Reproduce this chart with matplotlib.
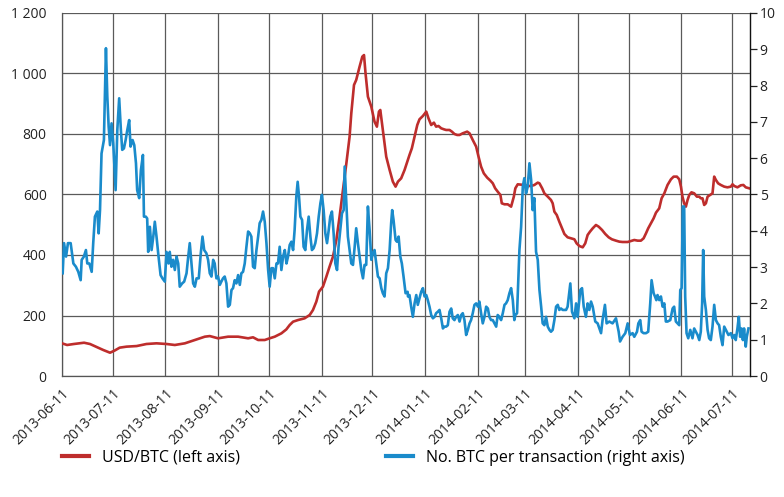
import numpy as np
import pandas as pd
import matplotlib
matplotlib.use("Agg")
import matplotlib.pyplot as plt
import matplotlib.dates as mdates
from matplotlib.ticker import FuncFormatter
from matplotlib.lines import Line2D

plt.rcParams['font.family'] = ['Open Sans', 'DejaVu Sans']

start = pd.Timestamp('2013-06-11')

# USD/BTC (left axis): days after 2013-06-11, price
usd_days = [0, 3, 7, 13, 16.5, 20, 24.3, 28.3, 31, 34, 38, 44, 49.8, 55.7, 61.6,
            66.5, 72.4, 78.3, 84.2, 87.1, 92, 97.9, 103.8, 109.7, 112.6, 115.6, 119.5, 122.4, 125.4, 129.3, 132.2,
            134.2, 136.2, 139.1, 143, 146, 147.9, 149.9, 151.5, 153.8, 155.8, 157.7, 159.7, 161.7, 163.6, 165.6,
            167.6, 169.5, 170.5, 172.1, 173.4, 175.4, 177, 178, 178.9, 180.3, 182.3, 184.2, 185.6, 186.8, 187.6,
            189.1, 191.1, 193.1, 195, 196.6, 198, 199.9,
            201.9, 203.5, 204.8, 206.2, 207.8, 209.4, 210.7, 212.7, 214.7, 216, 217.6, 219.2, 220.5, 221.9, 223.5,
            225.1, 226.4, 228.4, 229.8, 231.3, 232.9, 234.3, 236.2, 238.8, 240.2, 242.1, 244.1, 245.5, 247, 248.6,
            250.6, 252.5, 253.9, 255.3, 256.8, 258.4, 259.2, 260.8, 262.7, 264.7, 266.3, 267.2, 268.6,
            272.5, 274.5, 276.5, 278.4, 280.4, 281.4, 283, 284.3, 286.3, 288.2, 289.2, 290.2, 291.6, 293.1, 294.7,
            296.1, 298, 300, 302, 303.3, 304.9, 306.9, 308.4, 309.8, 311.2, 312.8, 314.7, 316.3, 318.3, 320.2,
            322.2, 324.1, 326.5, 328.5, 330.4, 333.4, 335.3,
            337.3, 339.3, 341.2, 342.8, 344.2, 345.5, 347.1, 348.7, 350.1, 352, 353.4, 355, 356.9, 358.9, 360.5,
            362.4, 363.8, 364.8, 365.7, 366.7, 367.7, 368.7, 369.7, 371, 372.6, 374.2, 375.6, 376.5, 377.5, 378.5,
            379.5, 380.5, 382, 383.4, 384.4, 385.4, 386.7, 388.3, 390.3, 392.2, 394.2, 395.2, 396.2, 398.1, 400.1,
            401.6, 403, 405]
usd_btc = [108, 102.5, 105.8, 110, 105.8, 97, 86, 77, 84, 93.7, 97, 99, 105.8, 108, 105.8,
           102.5, 108, 119, 130, 132, 124.6, 130, 130, 124.6, 127.9, 119, 119, 124.6, 130, 141, 154,
           168.6, 179.6, 185, 190.7, 201.7, 218, 245.8, 279, 295.4, 328.4, 361.5, 394.5, 449.6, 526.8, 615,
           703, 791, 868, 962, 978.6, 1022.7, 1055.7, 1061, 1000.6, 923.5, 890.4, 840.8, 824.3, 874, 879.4,
           813.3, 725, 681, 642.5, 626, 642.5, 653.5,
           681, 708.6, 730.6, 752.7, 791.3, 829.8, 848.6, 859.6, 873.9, 851.9, 829.8, 837.5, 824.3, 826.5, 818.8,
           815.5, 813.3, 813.3, 807.8, 800, 796.8, 796.8, 802.3, 807.8, 802.3, 780.2, 758.2, 725.1, 692.1, 670,
           655.7, 645.8, 637, 620.5, 609.4, 598.4, 570.9, 567.6, 567.6, 559.8, 592.9, 620.5, 633.7,
           631.5, 628.2, 628.2, 631.5, 639.2, 637, 620.5, 603.9, 592.9, 581.9, 570.9, 543.3, 532.3, 510.3, 488.2,
           469.5, 458.5, 455.2, 451.9, 438.6, 429.8, 425.4, 438.6, 466.2, 477.2, 488.2, 499.2, 493.7, 482.7, 469.5,
           458.5, 451.9, 447.4, 444.1, 443, 443, 446.3,
           449.6, 447.4, 447.4, 455.2, 471.7, 488.2, 504.7, 521.3, 540.1, 554.3, 587.4, 603.9, 631.5, 650.2, 659.1,
           659.1, 650.2, 626, 592.9, 570.9, 559.8, 581.9, 598.4, 607.2, 603.9, 592.9, 592.9, 587.4, 587.4, 565.4,
           570.9, 592.9, 598.4, 603.9, 659.1, 648, 637, 631.5, 626, 623.7, 626, 633.7, 628.2, 623.7, 630.4,
           631.5, 623.7, 620.5]

# No. BTC per transaction (right axis)
btc_days = [0.4, 1.2, 2.4, 3.5, 5.1, 6.7, 8.2, 9.6, 11.0, 11.6, 12.9, 14.1, 14.9, 16.1, 17.5, 18.4, 19.4, 20.8,
            21.6, 22.4, 23.3, 24.7, 25.9, 26.7, 27.5, 28.3, 29.2, 30.2, 30.8, 31.6, 32.6, 33.7, 34.7, 35.5, 36.5,
            37.5, 38.5, 39.6, 40.4, 41.6, 42.6, 43.6, 44.3, 45.5, 46.5, 47.7, 48.3, 49.4, 50.2, 50.8, 51.8, 52.8,
            53.8, 54.7, 55.7, 56.9, 58.1, 59.2, 60.6, 61.6, 62.8, 63.5, 64.5, 65.5,
            66.5, 67.5, 68.5, 69.4, 70.8, 72.0, 73.4, 74.4, 75.3, 76.3, 77.3, 78.3, 79.3, 80.6, 81.8, 82.8, 83.8,
            85.1, 86.1, 87.1, 88.1, 89.1, 90.0, 91.0, 92.0, 93.0, 93.9, 94.9, 95.9, 96.9, 97.9, 98.9, 99.9, 100.8,
            101.8, 102.8, 103.8, 104.8, 105.7, 106.7, 107.7, 108.7, 109.7, 110.7, 111.6, 112.6, 113.6, 114.6,
            115.6, 116.5, 117.5, 118.5, 119.5, 120.5, 121.5, 122.4, 123.4, 124.4, 125.4, 126.4, 127.3, 128.3,
            129.3, 130.3, 131.3, 132.3, 133.2, 134.2,
            135.2, 136.2, 137.1, 138.1, 138.9, 139.7, 140.5, 141.5, 142.4, 143.4, 144.4, 145.4, 146.4, 147.3,
            148.3, 149.3, 150.3, 151.3, 152.3, 153.2, 154.2, 155.2, 156.2, 157.2, 158.1, 159.1, 160.1, 161.1,
            162.1, 163.0, 164.0, 165.0, 166.0, 166.6, 167.6, 168.5, 169.5, 170.5, 171.5, 172.5, 173.4, 174.4,
            175.4, 176.4, 177.4, 178.3, 179.3, 180.3, 181.3, 182.3, 183.2, 184.2, 185.2, 186.2, 187.2, 188.2,
            189.1, 190.1, 191.1, 192.1, 193.1, 194.0, 194.6, 195.4, 196.6, 197.4, 198.4, 199.4, 200.3, 201.3,
            202.5, 203.7,
            203.9, 204.8, 205.8, 206.8, 207.8, 208.8, 209.7, 210.7, 211.7, 212.7, 213.7, 214.7, 215.6, 216.6,
            217.6, 218.6, 219.6, 220.5, 221.5, 222.5, 223.5, 224.5, 225.4, 226.4, 227.4, 228.4, 229.4, 230.3,
            231.3, 232.3, 233.3, 234.3, 235.3, 236.2, 237.2, 238.2, 239.2, 240.2, 241.1, 242.1, 243.1, 244.1,
            245.1, 246.0, 247.0, 248.0, 249.0, 250.0, 251.0, 251.9, 252.9, 253.9, 254.9, 255.9, 256.8, 257.8,
            258.8, 259.8, 260.8, 261.7, 262.7, 263.7, 264.7, 265.7, 266.6, 267.2, 268.2,
            269.6, 270.6, 271.6, 272.5, 273.5, 274.5, 275.5, 276.5, 277.4, 278.4, 279.4, 280.4, 281.4, 282.4,
            283.3, 284.3, 285.3, 286.3, 287.3, 288.2, 289.2, 290.2, 291.2, 292.2, 293.1, 294.1, 295.1, 297.1,
            298.0, 299.6, 300.6, 302.0, 303.0, 303.9, 305.5, 306.5, 307.5, 308.8, 309.8, 310.8, 311.8, 312.8,
            314.3, 315.7, 317.7, 318.6, 320.0, 321.0, 322.6, 324.5, 326.5, 328.1, 328.9, 330.4, 332.0, 333.4,
            334.7, 336.3,
            337.3, 338.9, 339.7, 340.8, 341.6, 342.8, 344.2, 345.5, 346.7, 347.5, 348.7, 349.5, 350.3, 351.0,
            352.0, 353.0, 354.0, 355.0, 355.9, 356.9, 358.5, 359.9, 360.8, 361.8, 362.8, 363.8, 364.4, 365.2,
            365.9, 366.7, 367.3, 368.1, 369.1, 370.3, 371.6, 372.6, 373.6, 374.6, 375.6, 376.5, 377.3, 377.9,
            378.5, 379.5, 380.5, 381.4, 382.4, 383.4, 384.4, 385.4, 386.4, 387.3, 388.3, 389.3, 390.3, 391.8,
            392.8, 394.2, 395.2, 396.2, 397.1, 398.1, 398.9, 399.7, 400.5, 401.3, 402.0, 403.0, 403.6, 404.6]
btc_per_tx = [2.83, 3.66, 3.29, 3.66, 3.66, 3.10, 3.01, 2.87, 2.64, 3.20, 3.29, 3.47, 3.10, 3.10, 2.87, 3.66, 4.39, 4.53,
              3.93, 4.57, 6.13, 6.50, 9.03, 7.70, 6.87, 6.36, 6.96, 6.41, 5.86, 5.12, 6.78, 7.65, 6.78, 6.23, 6.27,
              6.50, 6.78, 7.05, 6.32, 6.50, 6.36, 5.86, 5.12, 4.90, 5.67, 6.09, 4.39, 4.39, 4.34, 3.42, 4.11, 3.47,
              3.84, 4.25, 3.84, 3.29, 2.78, 2.69, 2.60, 3.42, 3.10, 3.42, 3.01, 3.20,
              2.92, 3.29, 3.10, 2.46, 2.55, 2.60, 2.83, 3.29, 3.66, 3.10, 2.55, 2.46, 2.69, 2.69, 3.38, 3.84, 3.47,
              3.38, 3.20, 2.83, 2.74, 3.20, 3.10, 2.69, 2.74, 2.51, 2.60, 2.69, 2.74, 2.55, 1.91, 1.96, 2.37, 2.42,
              2.64, 2.55, 2.78, 2.51, 2.83, 2.87, 3.10, 3.56, 3.98, 3.93, 3.84, 3.01, 2.97, 3.47,
              3.84, 4.21, 4.30, 4.53, 4.25, 3.66, 2.92, 2.46, 2.97, 2.97, 2.69, 3.10, 3.10, 3.56,
              2.92, 3.29, 3.47, 3.10, 3.29, 3.61,
              3.70, 3.47, 4.02, 4.94, 5.35, 4.94, 4.39, 4.30, 3.56, 3.47, 4.02, 4.39, 3.84, 3.47,
              3.52, 3.66, 3.93, 4.39, 4.76, 4.99, 4.57, 3.93, 3.66, 4.02, 4.39, 4.53, 3.93, 3.10,
              2.92, 3.56, 4.02, 4.48, 4.57, 5.77, 4.76, 3.84, 3.47, 3.10, 3.06, 3.56, 4.07, 3.66,
              3.29, 2.92, 2.69, 3.06, 3.06, 4.67, 4.02, 3.20, 3.38, 3.47, 3.10, 2.74, 2.69, 2.42,
              2.28, 2.19, 2.83, 2.97, 3.47, 4.21, 4.57, 4.30, 3.75, 3.70, 3.84, 3.29, 3.10, 2.74,
              2.28, 2.32,
              2.19, 2.23, 1.91, 1.63, 2.00, 2.23, 1.96, 2.14, 2.32, 2.42, 2.19, 2.23, 2.09, 1.91,
              1.68, 1.59, 1.63, 1.73, 1.77, 1.82, 1.59, 1.31, 1.36, 1.36, 1.40, 1.77, 1.86, 1.59,
              1.54, 1.63, 1.68, 1.50, 1.68, 1.73, 1.54, 1.13, 1.27, 1.45, 1.54, 1.73, 1.96, 2.00,
              1.91, 2.05, 1.73, 1.45, 1.63, 1.91, 1.86, 1.63, 1.54, 1.54, 1.45, 1.36, 1.68, 1.63,
              1.54, 1.73, 1.96, 2.00, 2.09, 2.28, 2.42, 2.09, 1.54, 1.68, 1.73,
              3.47, 4.11, 5.22, 5.45, 5.03, 5.22, 5.86, 5.40, 4.57, 4.90, 3.42, 3.20, 2.37, 1.91,
              1.45, 1.40, 1.63, 1.36, 1.27, 1.22, 1.27, 1.54, 1.91, 1.96, 1.82, 1.86, 1.82, 1.82,
              1.91, 2.55, 1.77, 1.59, 2.00, 1.63, 2.37, 2.42, 1.91, 1.63, 2.00, 1.82, 2.05, 1.91,
              1.50, 1.45, 1.18, 1.54, 1.96, 1.45, 1.50, 1.45, 1.59, 1.22, 0.95, 1.08, 1.18, 1.45,
              1.13, 1.18,
              1.08, 1.22, 1.45, 1.54, 1.22, 1.18, 1.18, 1.22, 2.00, 2.64, 2.28, 2.19, 2.09, 2.23,
              2.09, 2.19, 1.91, 2.00, 1.50, 1.50, 1.54, 1.86, 1.91, 1.50, 1.45, 1.40, 2.37, 2.42,
              4.67, 4.67, 2.19, 1.18, 1.04, 1.27, 1.04, 1.31, 1.22, 1.13, 0.99, 1.22, 2.00, 3.47,
              2.19, 1.82, 1.27, 1.04, 0.99, 1.36, 1.96, 1.54, 1.45, 1.40, 1.08, 0.85, 1.36, 1.22,
              1.13, 1.18, 1.04, 1.13, 0.99, 1.31, 1.63, 1.08, 1.31, 0.99, 1.31, 0.81, 1.08, 1.31]

tick_dates = pd.date_range('2013-06-01', '2014-07-01', freq='MS') + pd.Timedelta(days=10)

usd_x = start + pd.to_timedelta(usd_days, unit='D')
btc_x = start + pd.to_timedelta(btc_days, unit='D')

red = '#BE2D2C'
blue = '#1A8BCB'

fig = plt.figure(figsize=(7.84, 4.97), dpi=100)
ax = fig.add_axes([62/784, 1 - 376/497, (750-62)/784, (376-13)/497])
ax2 = ax.twinx()

ax.plot(usd_x, usd_btc, color=red, lw=1.9, zorder=3)
ax2.plot(btc_x, btc_per_tx, color=blue, lw=1.9)

ax.set_ylim(0, 1200)
ax.set_yticks(range(0, 1201, 200))
ax.yaxis.set_major_formatter(FuncFormatter(lambda v, p: f"{int(v):,}".replace(',', ' ')))
ax2.set_ylim(0, 10)
ax2.set_yticks(range(0, 11))
ax.set_xlim(start, start + pd.Timedelta(days=405.5))
ax.set_xticks(tick_dates)
ax.xaxis.set_major_formatter(mdates.DateFormatter('%Y-%m-%d'))
for lab in ax.get_xticklabels():
    lab.set_rotation(45)
    lab.set_ha('right')
    lab.set_rotation_mode('anchor')

ax.grid(True, color='#5a5a5a', lw=0.9)
ax.set_axisbelow(True)
ax.tick_params(axis='y', length=0, labelsize=10, colors='#222222', pad=11)
ax.tick_params(axis='x', length=0, labelsize=10, colors='#222222', pad=7)
ax2.tick_params(axis='y', length=5, width=0.9, labelsize=10, colors='#222222', pad=2)
for a in (ax, ax2):
    for s in a.spines.values():
        s.set_color('#555555')
        s.set_linewidth(0.9)
    a.spines['top'].set_visible(False)
ax2.spines['right'].set_color('#111111')
ax2.spines['left'].set_visible(False)
ax2.spines['bottom'].set_visible(False)

h1 = Line2D([], [], color=red, lw=3)
h2 = Line2D([], [], color=blue, lw=3)
fig.legend([h1], ['USD/BTC (left axis)'], loc='center left', bbox_to_anchor=(62/784, 1 - 458/497),
           frameon=False, fontsize=11.5, handlelength=1.7, handletextpad=0.8, borderpad=0, borderaxespad=0)
fig.legend([h2], ['No. BTC per transaction (right axis)'], loc='center left', bbox_to_anchor=(386/784, 1 - 458/497),
           frameon=False, fontsize=11.5, handlelength=1.7, handletextpad=0.8, borderpad=0, borderaxespad=0)

fig.savefig('out.png', dpi=100)
